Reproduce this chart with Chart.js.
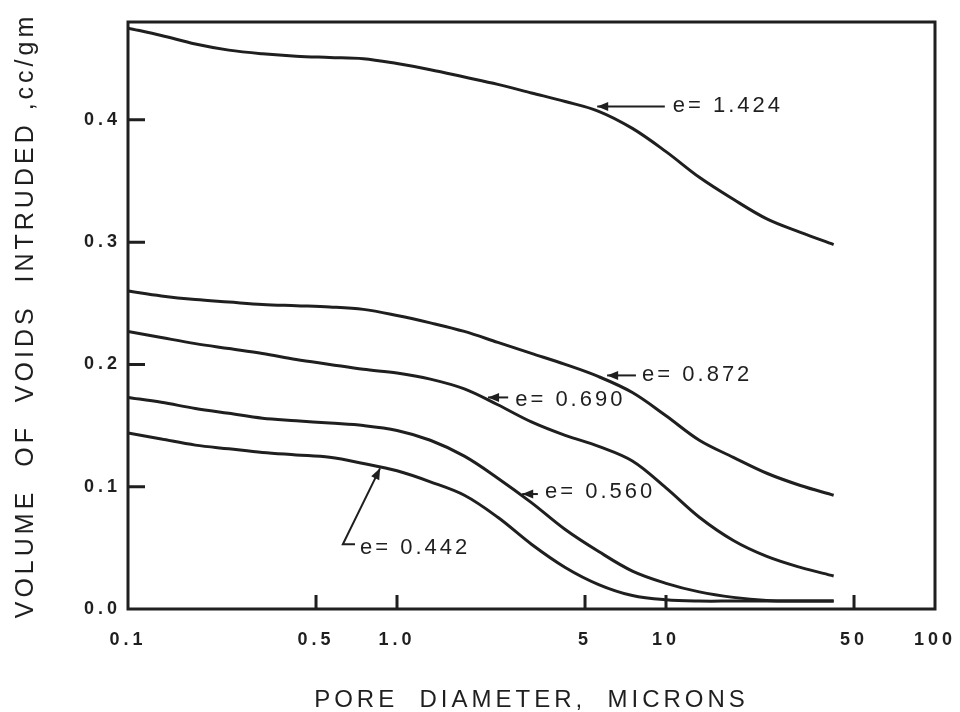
<!DOCTYPE html>
<html>
<head>
<meta charset="utf-8">
<script src="https://cdn.jsdelivr.net/npm/chart.js@4.4.1/dist/chart.umd.min.js"></script>
<style>
  html, body { margin: 0; padding: 0; background: #ffffff; }
  #wrap { width: 960px; height: 712px; position: relative; }
</style>
</head>
<body>
<div id="wrap"><canvas id="chart"></canvas></div>
<script>
// ---------- data ----------
const xTickValues = [0.1, 0.5, 1, 5, 10, 50, 100];
const xTickLabels = ['0.1', '0.5', '1.0', '5', '10', '50', '100'];
const yTickValues = [0, 0.1, 0.2, 0.3, 0.4];
const yTickLabels = ['0.0', '0.1', '0.2', '0.3', '0.4'];
const xInnerTicks = [0.5, 1, 5, 10, 50];
const yInnerTicks = [0.1, 0.2, 0.3, 0.4];

const seriesNames = ['e = 1.424', 'e = 0.872', 'e = 0.690', 'e = 0.560', 'e = 0.442'];

// pore diameters (microns) at which the curves were read
const poreDiameter = [0.1, 0.133, 0.178, 0.237, 0.316, 0.422, 0.562, 0.75, 1.0, 1.33, 1.78, 2.37, 3.16, 4.22, 5.62, 7.5, 10, 13.3, 17.8, 23.7, 31.6, 42];

// volume of voids intruded (cc/gm)
const e1424 = [0.475, 0.469, 0.462, 0.457, 0.454, 0.452, 0.451, 0.450, 0.446, 0.441, 0.435, 0.429, 0.422, 0.415, 0.407, 0.393, 0.374, 0.353, 0.335, 0.319, 0.308, 0.298];
const e0872 = [0.260, 0.256, 0.253, 0.251, 0.249, 0.248, 0.247, 0.245, 0.240, 0.234, 0.227, 0.218, 0.209, 0.200, 0.190, 0.177, 0.158, 0.138, 0.124, 0.111, 0.101, 0.093];
const e0690 = [0.227, 0.222, 0.217, 0.213, 0.209, 0.204, 0.200, 0.196, 0.193, 0.188, 0.180, 0.167, 0.153, 0.142, 0.133, 0.121, 0.099, 0.075, 0.056, 0.043, 0.034, 0.027];
const e0560 = [0.173, 0.169, 0.164, 0.160, 0.156, 0.154, 0.152, 0.150, 0.146, 0.138, 0.125, 0.107, 0.087, 0.065, 0.047, 0.031, 0.021, 0.014, 0.0095, 0.007, 0.0065, 0.0065];
const e0442 = [0.144, 0.139, 0.134, 0.131, 0.128, 0.126, 0.124, 0.119, 0.113, 0.104, 0.093, 0.075, 0.053, 0.034, 0.020, 0.011, 0.0075, 0.0065, 0.0065, 0.0065, 0.0065, 0.0065];

// annotation labels (data coordinates) and their arrows
const annoText = ['e= 1.424', 'e= 0.872', 'e= 0.690', 'e= 0.560', 'e= 0.442'];
const annoAt = [[10.6, 0.411], [8.15, 0.191], [2.75, 0.171], [3.55, 0.096], [0.729, 0.050]];
const annoArrows = [
  [[9.9, 0.411], [5.55, 0.411]],
  [[7.73, 0.191], [6.04, 0.191]],
  [[2.59, 0.173], [2.18, 0.173]],
  [[3.34, 0.094], [2.92, 0.094]],
  [[0.698, 0.053], [0.629, 0.053], [0.865, 0.115]]
];

// ---------- styling ----------
const INK = '#1f1f1f';
const FONT = "'Liberation Sans', Arial, sans-serif";

const seriesY = [e1424, e0872, e0690, e0560, e0442];

const datasets = seriesNames.map((name, i) => ({
  label: name,
  data: poreDiameter.map((d, k) => ({ x: d, y: seriesY[i][k] })),
  showLine: true,
  borderColor: INK,
  borderWidth: 3,
  pointRadius: 0,
  fill: false,
  tension: 0.35
}));

const decor = {
  id: 'decor',
  beforeDraw(chart) {
    chart.ctx.letterSpacing = '4px';
  },
  afterDraw(chart) {
    const { ctx, chartArea: a, scales: { x, y } } = chart;
    ctx.save();
    ctx.strokeStyle = INK;
    ctx.fillStyle = INK;
    ctx.lineWidth = 3;
    ctx.lineCap = 'butt';
    ctx.strokeRect(a.left, a.top, a.right - a.left, a.bottom - a.top);
    ctx.beginPath();
    xInnerTicks.forEach(v => {
      const px = x.getPixelForValue(v);
      ctx.moveTo(px, a.bottom); ctx.lineTo(px, a.bottom - 14);
    });
    yInnerTicks.forEach(v => {
      const py = y.getPixelForValue(v);
      ctx.moveTo(a.left, py); ctx.lineTo(a.left + 17, py);
    });
    ctx.stroke();

    // annotations
    ctx.lineWidth = 2;
    annoArrows.forEach(path => {
      const p = path.map(([vx, vy]) => [x.getPixelForValue(vx), y.getPixelForValue(vy)]);
      ctx.beginPath();
      ctx.moveTo(p[0][0], p[0][1]);
      for (let k = 1; k < p.length; k++) ctx.lineTo(p[k][0], p[k][1]);
      ctx.stroke();
      const [x1, y1] = p[p.length - 2];
      const [x2, y2] = p[p.length - 1];
      const ang = Math.atan2(y2 - y1, x2 - x1);
      const L = 11, W = 4.5;
      ctx.beginPath();
      ctx.moveTo(x2, y2);
      ctx.lineTo(x2 - L * Math.cos(ang) + W * Math.sin(ang), y2 - L * Math.sin(ang) - W * Math.cos(ang));
      ctx.lineTo(x2 - L * Math.cos(ang) - W * Math.sin(ang), y2 - L * Math.sin(ang) + W * Math.cos(ang));
      ctx.closePath();
      ctx.fill();
    });
    ctx.font = '22px ' + FONT;
    ctx.letterSpacing = '3px';
    ctx.textAlign = 'left';
    ctx.textBaseline = 'middle';
    annoText.forEach((t, i) => {
      ctx.fillText(t, x.getPixelForValue(annoAt[i][0]), y.getPixelForValue(annoAt[i][1]));
    });
    ctx.restore();
  }
};

new Chart(document.getElementById('chart'), {
  type: 'scatter',
  data: { datasets },
  plugins: [decor],
  options: {
    responsive: true,
    maintainAspectRatio: false,
    animation: false,
    layout: { padding: { top: 22, right: 25, left: 0, bottom: 0 } },
    plugins: { legend: { display: false }, tooltip: { enabled: false } },
    scales: {
      x: {
        type: 'logarithmic',
        min: 0.1,
        max: 100,
        grid: { display: false, drawTicks: false, tickLength: 0 },
        border: { display: false },
        afterBuildTicks: s => { s.ticks = xTickValues.map(v => ({ value: v })); },
        afterFit: s => { s.height = 103; s.paddingLeft = 0; s.paddingRight = 0; },
        ticks: {
          autoSkip: false,
          maxRotation: 0,
          padding: 20,
          color: INK,
          font: { family: FONT, size: 18, weight: 'bold' },
          callback: (v) => { const i = xTickValues.indexOf(v); return i >= 0 ? xTickLabels[i] : ''; }
        },
        title: {
          display: true,
          text: 'PORE  DIAMETER,  MICRONS',
          color: INK,
          font: { family: FONT, size: 24, lineHeight: 1 },
          padding: { top: 0, bottom: 0 }
        }
      },
      y: {
        type: 'linear',
        min: 0,
        max: 0.48,
        grid: { display: false, drawTicks: false, tickLength: 0 },
        border: { display: false },
        afterBuildTicks: s => { s.ticks = yTickValues.map(v => ({ value: v })); },
        afterFit: s => { s.width = 128; s.paddingTop = 0; s.paddingBottom = 0; },
        ticks: {
          padding: 7,
          color: INK,
          font: { family: FONT, size: 18, weight: 'bold' },
          callback: (v) => { const i = yTickValues.findIndex(t => Math.abs(t - v) < 1e-9); return i >= 0 ? yTickLabels[i] : ''; }
        },
        title: {
          display: true,
          text: 'VOLUME  OF  VOIDS  INTRUDED ,cc/gm',
          color: INK,
          font: { family: FONT, size: 25, lineHeight: 1.2 },
          padding: { top: 11, bottom: 0 }
        }
      }
    }
  }
});
</script>
</body>
</html>
